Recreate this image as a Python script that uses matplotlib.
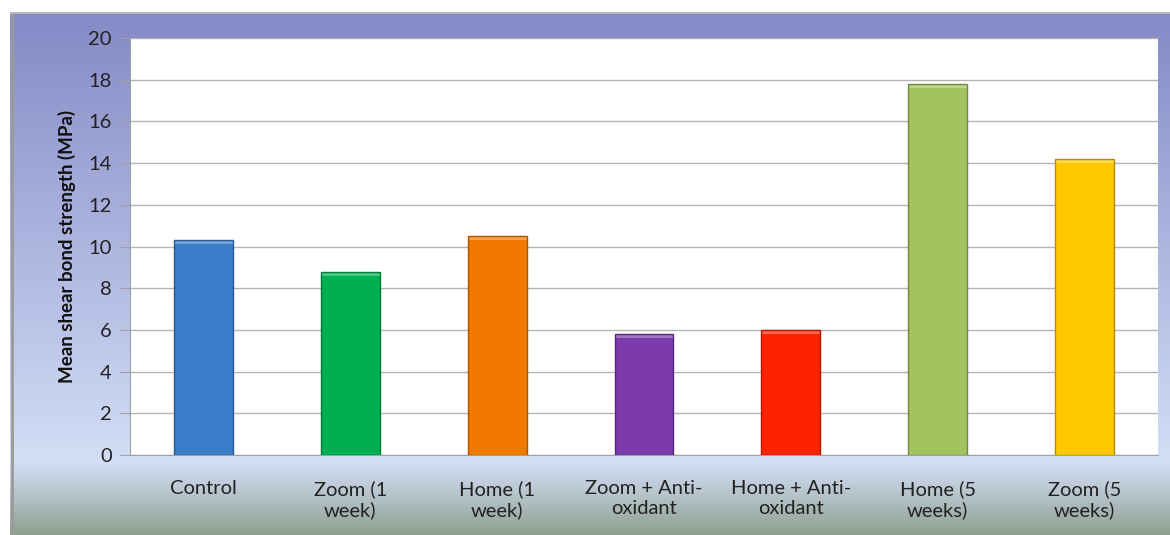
import matplotlib.pyplot as plt
import numpy as np
from matplotlib.colors import to_rgb

plt.rcParams["font.family"] = ["Lato", "DejaVu Sans"]

categories = ["Control", "Zoom (1\nweek)", "Home (1\nweek)", "Zoom + Anti-\noxidant",
              "Home + Anti-\noxidant", "Home (5\nweeks)", "Zoom (5\nweeks)"]
values = [10.3, 8.8, 10.5, 5.8, 6.0, 17.8, 14.2]
bar_colors = ["#3b7dc9", "#00b050", "#f27900", "#7b3bab", "#ff2200", "#a2c35f", "#ffc800"]
y_ticks = [0, 2, 4, 6, 8, 10, 12, 14, 16, 18, 20]

W, H = 1170, 535
fig = plt.figure(figsize=(W / 100, H / 100), dpi=100)
fig.patch.set_facecolor("white")

# background panel with vertical gradient
bg = fig.add_axes([10 / W, 0, 1 - 10 / W, 1 - 12 / H])
bg.set_axis_off()
n = 400
t = np.linspace(0, 1, n)  # 0 = top, 1 = bottom
top = np.array(to_rgb("#8589c6"))
mid = np.array(to_rgb("#d3def6"))
bot = np.array(to_rgb("#8e9f8e"))
split = (462 - 12) / (535 - 12)
grad = np.zeros((n, 1, 3))
for i, v in enumerate(t):
    if v < split:
        f = v / split
        grad[i, 0] = top + (mid - top) * f
    else:
        f = ((v - split) / (1 - split)) ** 1.1
        grad[i, 0] = mid + (bot - mid) * f
bg.imshow(grad, aspect="auto", extent=[0, 1, 0, 1], interpolation="bilinear")
bg.set_xlim(0, 1)
bg.set_ylim(0, 1)
bg.plot([0.0015, 0.0015], [0, 1], color="#9a9a9a", lw=2)
bg.plot([0, 1], [0.999, 0.999], color="#b8b8b8", lw=1.5)

ax = fig.add_axes([130 / W, 1 - 455 / H, 1028 / W, (455 - 38) / H])
ax.set_facecolor("white")
x = np.arange(len(categories))
edge_cols = [tuple(c * 0.7 for c in to_rgb(col)) for col in bar_colors]
# light bevel at the top of each bar, under the outline
light_cols = [tuple(c + (1 - c) * 0.3 for c in to_rgb(col)) for col in bar_colors]
bevel = 0.2
ax.bar(x, values, width=0.4, color=bar_colors, linewidth=0, zorder=3)
ax.bar(x, [bevel] * len(values), bottom=[v - bevel for v in values], width=0.4,
       color=light_cols, linewidth=0, zorder=4)
ax.bar(x, values, width=0.4, facecolor="none", edgecolor=edge_cols,
       linewidth=1.0, zorder=5)
ax.set_xlim(-0.5, len(categories) - 0.5)
ax.set_ylim(0, 20)
ax.set_yticks(y_ticks)
ax.set_yticklabels([str(v) for v in y_ticks], fontsize=14.5, color="#222222")
ax.set_xticks(x)
ax.set_xticklabels(categories, fontsize=14.5, color="#222222", linespacing=1.2)
ax.tick_params(axis="x", length=0, pad=18)
ax.tick_params(axis="y", length=7, color="#a0a0a0", pad=6)
ax.yaxis.grid(True, color="#b4b4b4", linewidth=1.0, zorder=0)
ax.set_axisbelow(True)
for side in ["top", "right"]:
    ax.spines[side].set_visible(False)
for side in ["left", "bottom"]:
    ax.spines[side].set_color("#a0a0a0")
ax.set_ylabel("Mean shear bond strength (MPa)", fontsize=13.5, fontweight="bold",
              color="#111111", labelpad=9)

fig.savefig("out.png", dpi=100, facecolor=fig.get_facecolor())
